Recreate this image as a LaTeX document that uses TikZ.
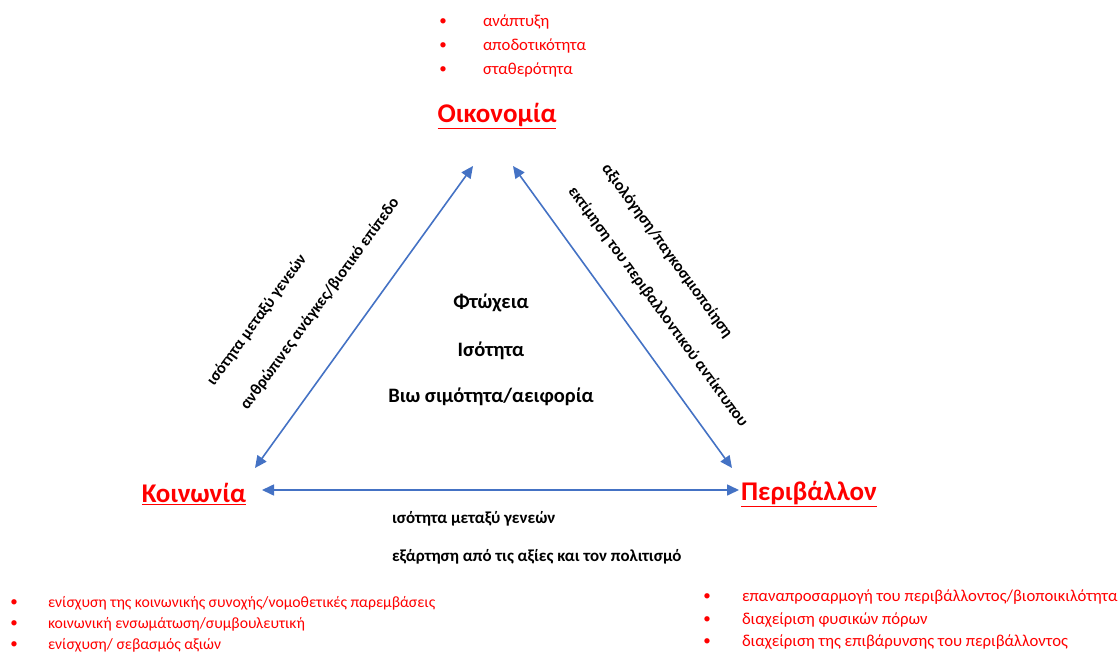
\documentclass[tikz,border=0pt]{standalone}
\usepackage{fontspec}
\setmainfont{Carlito}
\usetikzlibrary{arrows.meta}
\definecolor{arrowblue}{RGB}{68,114,196}
\definecolor{txtred}{RGB}{255,0,0}
\tikzset{
  every node/.style={inner sep=0pt, outer sep=0pt},
  heading/.style={text=txtred, font=\fontsize{27}{30}\selectfont\bfseries},
  item/.style={text=txtred, anchor=west, font=\fontsize{16.7}{19}\selectfont},
  itemL/.style={text=txtred, anchor=west, font=\fontsize{15.7}{18}\selectfont},
  bul/.style={text=txtred, font=\fontsize{15}{17}\selectfont},
  center/.style={font=\fontsize{20.5}{24}\selectfont\bfseries},
  lbl/.style={font=\fontsize{16.3}{19}\selectfont\bfseries},
  blbl/.style={anchor=west, font=\fontsize{16.9}{19}\selectfont\bfseries},
  link/.style={draw=arrowblue, line width=1.6pt, {Triangle[length=12pt,width=11pt]}-{Triangle[length=12pt,width=11pt]}}
}
\begin{document}
\begin{tikzpicture}[x=1pt,y=-1pt]
\useasboundingbox (0,0) rectangle (1119,653);
% top bullets
\node[bul] (tb1) at (443,22) {•};
\node[bul] (tb2) at (443,46) {•};
\node[bul] (tb3) at (443,70) {•};
\node[item] (t1) at (483,22) {ανάπτυξη};
\node[item] (t2) at (483,46) {αποδοτικότητα};
\node[item] (t3) at (483,70) {σταθερότητα};
% headings
\node[heading] (oik) at (497,116) {\underline{Οικονομία}};
\node[heading] (koi) at (194,494) {\underline{Κοινωνία}};
\node[heading] (per) at (809,494) {\underline{Περιβάλλον}};
% arrow endpoints
\coordinate (aT1) at (473,166);
\coordinate (aL1) at (255,468);
\coordinate (aT2) at (513,166);
\coordinate (aR2) at (732,468);
\coordinate (aL3) at (262,490);
\coordinate (aR3) at (739,490);
\draw[link] (aL1) -- (aT1);
\draw[link] (aT2) -- (aR2);
\draw[link] (aL3) -- (aR3);
% center
\node[center] (c1) at (491,303) {Φτώχεια};
\node[center] (c2) at (491,351) {Ισότητα};
\node[center] (c3) at (491,397) {Βιω σιμότητα/αειφορία};
% left side labels
\node[lbl, rotate=53.9] (l1) at (257,320) {ισότητα μεταξύ γενεών};
\node[lbl, rotate=53.9] (l2) at (320,304) {ανθρώπινες ανάγκες/βιοτικό επίπεδο};
% right side labels
\node[lbl, rotate=-53.9] (r1) at (667,251) {αξιολόγηση/παγκοσμιοποίηση};
\node[lbl, rotate=-53.9] (r2) at (658,307) {εκτίμηση του περιβαλλοντικού αντίκτυπου};
% bottom labels
\node[blbl] (b1) at (392,519) {ισότητα μεταξύ γενεών};
\node[blbl] (b2) at (392,557) {εξάρτηση από τις αξίες και τον πολιτισμό};
% bottom-left bullets
\node[bul] (lb1) at (14,603) {•};
\node[bul] (lb2) at (14,624) {•};
\node[bul] (lb3) at (14,645) {•};
\node[itemL] (ll1) at (48,603) {ενίσχυση της κοινωνικής συνοχής/νομοθετικές παρεμβάσεις};
\node[itemL] (ll2) at (48,624) {κοινωνική ενσωμάτωση/συμβουλευτική};
\node[itemL] (ll3) at (48,645) {ενίσχυση/ σεβασμός αξιών};
% bottom-right bullets
\node[bul] (rb1) at (707,597) {•};
\node[bul] (rb2) at (707,620) {•};
\node[bul] (rb3) at (707,642) {•};
\node[item] (rr1) at (742,597) {επαναπροσαρμογή του περιβάλλοντος/βιοποικιλότητα};
\node[item] (rr2) at (742,620) {διαχείριση φυσικών πόρων};
\node[item] (rr3) at (742,642) {διαχείριση της  επιβάρυνσης του περιβάλλοντος};
\end{tikzpicture}
\end{document}
